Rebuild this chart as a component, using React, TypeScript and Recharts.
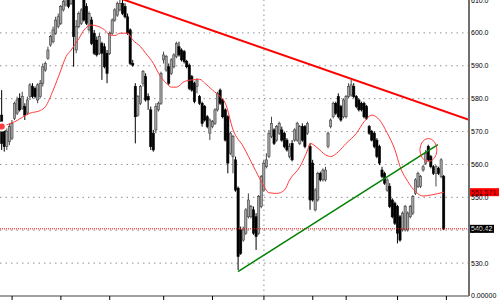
import React from 'react';
import { ComposedChart, Bar, Line, XAxis, YAxis, CartesianGrid, ReferenceLine, ReferenceDot } from 'recharts';

// daily candles (oldest first)
const opens = [
  575.0, 570.5, 565.4, 566.9, 568.0, 574.0, 575.6, 580.1, 577.1, 577.6,
  575.6, 580.6, 583.7, 583.1, 579.6, 580.6, 584.7,
  588.7, 592.3, 596.3, 597.3, 599.9, 601.9, 602.9, 607.0, 608.5, 610.5,
  609.0, 610.5, 594.8, 601.9, 602.9, 610.3, 608.0, 600.9, 603.9, 599.9,
  597.8, 593.8, 596.8, 595.8, 593.8, 593.8, 599.9, 603.9,
  605.4, 607.0, 609.0, 608.0, 604.9, 600.9, 590.7, 583.7, 575.0, 578.6,
  584.7, 586.7, 580.6, 576.6, 569.5, 570.5, 576.6, 578.6, 591.8, 588.7,
  589.7, 587.7, 589.7, 592.8, 595.8, 594.8, 594.3, 591.3, 590.2, 586.7,
  584.7, 583.7, 580.6, 578.6, 577.6, 574.5, 569.5, 571.5, 572.5, 576.6,
  582.6, 579.6, 576.6, 574.5, 563.4, 562.4, 561.4, 552.8, 540.1, 537.0,
  539.1, 544.1, 544.1, 546.2, 544.1, 539.1, 547.2, 552.2, 559.3, 562.4,
  568.5, 570.5, 567.4, 569.5, 570.5, 569.5, 567.4, 562.4, 566.4, 567.4,
  567.4, 566.4, 571.5, 571.5, 569.5, 565.4, 560.4, 546.2, 549.2, 557.3,
  555.3, 555.3, 565.4, 571.5, 574.5, 578.6, 580.6, 577.6, 574.5, 574.5,
  580.6, 581.1, 583.7, 580.6, 579.6, 578.6, 578.6, 577.6, 571.5, 570.0,
  569.5, 567.4, 565.4, 558.3, 557.3, 552.2, 553.3, 549.2, 548.2, 547.2,
  544.1, 540.1, 540.1, 540.1, 544.1, 545.2, 551.2, 553.3, 553.3, 558.3,
  560.4, 565.4, 562.4, 559.3, 557.3, 558.8, 556.3, 556.3,
];
const highs = [
  582.6, 571.5, 571.0, 572.5, 573.5, 579.1, 580.6, 581.6, 582.1, 578.6,
  580.6, 584.7, 584.7, 583.7, 584.7, 585.7, 590.7,
  591.3, 595.8, 599.4, 601.9, 604.9, 605.9, 608.5, 610.0, 611.0, 611.0,
  611.0, 611.0, 603.9, 606.5, 607.5, 610.8, 609.0, 606.5, 604.9, 600.9,
  598.9, 599.9, 597.3, 596.8, 594.8, 600.4, 604.4, 607.5,
  609.5, 610.0, 610.0, 609.0, 605.9, 601.4, 591.8, 584.7, 581.1, 584.2,
  588.7, 587.7, 581.6, 577.6, 570.5, 578.6, 579.1, 588.2, 594.3, 593.3,
  590.7, 592.3, 593.8, 597.3, 597.3, 595.3, 594.8, 591.8, 590.7, 587.2,
  585.2, 586.2, 581.1, 579.1, 578.1, 575.0, 574.0, 573.5, 577.1, 582.1,
  583.1, 580.1, 577.1, 575.0, 570.0, 569.0, 562.4, 553.3, 541.1, 541.1,
  546.7, 551.2, 547.7, 547.2, 545.2, 550.7, 556.8, 561.4, 563.4, 570.5,
  574.5, 571.0, 572.0, 573.0, 571.5, 570.0, 568.0, 566.4, 567.4, 571.0,
  573.0, 572.0, 572.5, 572.0, 573.0, 566.4, 561.4, 552.8, 557.8, 557.8,
  558.8, 559.3, 570.0, 574.0, 579.1, 579.1, 581.6, 578.1, 580.1, 581.1,
  584.7, 585.7, 584.7, 581.1, 580.1, 579.1, 579.1, 578.1, 572.0, 570.5,
  570.0, 568.0, 566.0, 559.3, 557.8, 555.8, 554.3, 549.7, 548.7, 547.7,
  544.6, 545.7, 547.7, 545.7, 547.7, 550.7, 555.8, 557.8, 556.8, 559.8,
  564.4, 566.0, 562.9, 559.8, 559.8, 559.3, 561.9, 556.8,
];
const lows = [
  564.4, 563.9, 564.4, 565.9, 567.4, 573.5, 575.0, 576.1, 576.6, 573.5,
  575.0, 579.6, 580.1, 580.1, 578.6, 580.1, 583.7,
  588.2, 591.8, 595.8, 596.8, 599.4, 601.4, 602.4, 606.5, 608.0, 607.5,
  608.5, 589.7, 593.8, 601.4, 602.4, 603.4, 602.4, 600.4, 596.3, 593.3,
  592.8, 593.3, 585.7, 589.2, 584.7, 593.3, 599.4, 603.4,
  604.9, 606.5, 605.4, 604.4, 599.4, 590.2, 589.7, 566.4, 574.5, 578.1,
  583.7, 579.1, 576.6, 564.4, 563.9, 569.5, 576.1, 578.1, 590.7, 588.2,
  584.2, 587.2, 589.2, 592.3, 592.8, 591.3, 590.7, 589.2, 582.6, 582.1,
  578.6, 581.6, 578.1, 571.5, 573.0, 571.0, 567.4, 571.0, 572.0, 576.1,
  578.1, 574.0, 567.0, 557.3, 562.9, 557.3, 551.7, 527.9, 532.5, 536.5,
  538.6, 543.6, 543.6, 538.6, 534.0, 538.6, 546.7, 551.7, 558.8, 561.9,
  568.0, 565.9, 566.9, 569.0, 566.9, 564.9, 563.9, 561.9, 560.9, 566.9,
  566.9, 565.9, 566.9, 564.9, 569.0, 546.2, 548.7, 545.7, 548.7, 554.8,
  554.8, 554.8, 564.9, 571.0, 574.0, 575.0, 574.0, 573.0, 574.0, 574.0,
  580.1, 580.6, 580.1, 577.1, 576.1, 576.1, 574.0, 573.5, 569.0, 567.0,
  564.9, 561.9, 559.8, 555.8, 553.8, 551.7, 546.7, 543.6, 541.6, 536.0,
  536.5, 539.6, 539.6, 539.6, 543.6, 544.6, 550.7, 552.8, 552.8, 557.8,
  559.8, 560.9, 558.8, 556.8, 553.3, 556.8, 555.8, 540.0,
];
const closes = [
  566.4, 565.4, 570.0, 571.5, 572.5, 578.6, 579.6, 576.6, 580.6, 575.0,
  579.6, 584.2, 580.6, 580.6, 584.2, 584.7, 589.7,
  590.7, 594.8, 598.9, 600.9, 603.9, 604.9, 608.0, 609.5, 610.5, 608.0,
  610.5, 598.9, 601.9, 605.9, 607.0, 603.9, 602.9, 605.9, 596.8, 593.8,
  593.3, 598.9, 593.8, 589.7, 587.7, 599.9, 603.9, 607.0,
  609.0, 609.0, 605.9, 604.9, 599.9, 590.7, 590.2, 574.5, 580.6, 583.7,
  588.2, 579.6, 579.6, 565.4, 564.4, 577.6, 578.6, 587.7, 593.3, 592.8,
  584.7, 591.8, 593.3, 596.8, 593.3, 591.8, 591.3, 589.7, 583.1, 582.6,
  579.1, 585.7, 578.6, 572.5, 573.5, 571.5, 573.5, 573.0, 576.6, 581.6,
  578.6, 574.5, 567.4, 560.4, 569.5, 568.5, 552.2, 532.0, 533.0, 540.1,
  546.2, 549.2, 547.2, 539.1, 538.1, 550.2, 556.3, 560.4, 561.4, 569.5,
  572.5, 566.4, 571.5, 572.5, 567.4, 565.4, 564.4, 565.4, 561.4, 570.5,
  572.5, 571.5, 567.4, 565.4, 572.5, 549.2, 549.2, 552.2, 557.3, 555.3,
  558.3, 558.3, 569.5, 573.5, 578.6, 575.6, 574.5, 573.5, 579.6, 580.6,
  583.7, 584.2, 580.6, 577.6, 576.6, 576.6, 574.5, 574.0, 569.5, 567.4,
  565.4, 562.4, 560.4, 556.3, 554.3, 555.3, 547.2, 544.1, 542.1, 539.1,
  537.0, 545.2, 547.2, 545.2, 547.2, 550.2, 555.3, 557.3, 556.3, 559.3,
  563.4, 561.4, 559.3, 557.3, 559.3, 557.3, 561.4, 540.42,
];

// moving average (red), sampled at these candle indexes
const maDays = [
  0, 5, 11, 15, 17, 20, 23, 25, 27, 30, 32, 35, 37, 40, 42, 44, 46, 49, 51, 54, 56, 59, 61, 64, 66, 68, 71, 74, 77, 79, 82, 85,
  87, 90, 94, 98, 101, 104, 107, 110, 112, 116, 119, 120, 123, 126, 128, 131, 134, 138, 141, 144, 147, 150, 153, 155, 158, 161, 164, 167, 172,
];
const maValues = [
  571.5, 573.0, 575.6, 576.4, 577.6, 582.6, 588.7, 592.8, 594.8, 598.3, 600.9, 602.4, 602.1, 600.9, 599.4, 599.2,
  599.9, 599.9, 597.8, 595.8, 593.8, 590.7, 587.7, 584.7, 583.5, 583.5, 585.2, 585.7, 585.9, 584.7, 582.6, 580.6,
  578.6, 570.5, 565.4, 559.3, 554.8, 551.4, 551.2, 552.2, 555.3, 559.3, 564.4, 566.4, 564.9, 562.9, 562.4, 563.9,
  566.4, 569.5, 573.0, 575.0, 573.5, 569.5, 564.4, 559.3, 554.8, 551.7, 550.4, 550.7, 551.571,
];

const xTicks = [4, 23, 42, 63, 82, 102, 121, 134, 154, 173];
const xLabels = ['Aug', 'Sep', 'Oct', 'Nov', 'Dec', '2011', 'Feb', 'Mar', 'Apr', 'May'];
const yTicks = [520, 530, 540, 550, 560, 570, 580, 590, 600, 610];
const gridValues = [530, 540, 550, 560, 570, 580, 590, 600];

const lastClose = 540.42;
const lastMa = 551.571;

// trend lines and marked point
const resistance = [{ x: 46, y: 610.5 }, { x: 181.8, y: 573.6 }];
const support = [{ x: 91.9, y: 527.4 }, { x: 169.7, y: 566.0 }];
const mark = { x: 166.0, y: 564.4 };

const data = opens.map((o, i) => {
  const k = maDays.indexOf(i);
  return {
    i,
    open: o,
    high: highs[i],
    low: lows[i],
    close: closes[i],
    range: [lows[i], highs[i]],
    ma: k >= 0 ? maValues[k] : null,
  };
});

const FONT = '"Liberation Sans", Arial, sans-serif';

const Candle = (props: any) => {
  const { x, y, width, height, payload } = props;
  if (x == null || y == null) return null;
  const top0 = Math.min(y, y + height);
  const h = Math.abs(height);
  const span = payload.high - payload.low || 1;
  const py = (v: number) => top0 + ((payload.high - v) / span) * h;
  const cx = x + width / 2;
  const up = payload.close >= payload.open;
  const bt = py(Math.max(payload.open, payload.close));
  const bb = py(Math.min(payload.open, payload.close));
  const bw = 2.2;
  return (
    <g>
      <line x1={cx} x2={cx} y1={top0} y2={top0 + h} stroke={up ? '#454545' : '#000'} strokeWidth={1} />
      <rect
        x={cx - bw / 2}
        y={bt}
        width={bw}
        height={Math.max(bb - bt, 0.8)}
        fill={up ? '#a4a4a4' : '#000'}
        stroke={up ? '#404040' : '#000'}
        strokeWidth={0.6}
      />
    </g>
  );
};

const XTick = (props: any) => {
  const { x, y, payload } = props;
  const label = xLabels[xTicks.indexOf(payload.value)] ?? '';
  return (
    <g>
      <line x1={x} x2={x} y1={y} y2={y + 4} stroke="#000" />
      <text x={x + 2} y={y + 9} fontSize={8} fontFamily={FONT} fill="#000">{label}</text>
    </g>
  );
};

const PriceTag = ({ viewBox, value, bg, color, w }: any) => {
  if (!viewBox) return null;
  const left = viewBox.x + viewBox.width + 1;
  return (
    <g>
      <rect x={left} y={viewBox.y - 4} width={w} height={8} fill={bg} />
      <text x={left + 1} y={viewBox.y + 2.6} fontSize={7} fontFamily={FONT} fill={color}>{value}</text>
    </g>
  );
};

export default function App() {
  return (
    <div style={{ position: 'absolute', left: 0, top: 0, width: 500, height: 300, overflow: 'hidden', background: '#fff' }}>
      <ComposedChart width={500} height={310} data={data} margin={{ top: 0, right: 0, bottom: 0, left: 0 }}>
        <CartesianGrid horizontal vertical={false} horizontalValues={gridValues} stroke="#909090" strokeDasharray="1.5 4" />
        <XAxis
          dataKey="i"
          type="number"
          domain={[-0.7, 181.8]}
          allowDataOverflow
          ticks={xTicks}
          interval={0}
          height={14}
          tickSize={0}
          tickMargin={0}
          tickLine={false}
          axisLine={{ stroke: '#808080', strokeWidth: 1.5 }}
          tick={<XTick />}
        />
        <YAxis
          orientation="right"
          width={31}
          domain={[520, 610]}
          allowDataOverflow
          ticks={yTicks}
          interval={0}
          tickSize={0}
          tickMargin={2}
          tickLine={false}
          axisLine={{ stroke: '#707070', strokeWidth: 2 }}
          tick={{ fontSize: 7, fill: '#000', fontFamily: FONT }}
          tickFormatter={(v: number) => (v === 520 ? '0.00000' : v.toFixed(1))}
        />
        <ReferenceLine x={xTicks[5]} stroke="#909090" strokeDasharray="1.5 3.5" />
        <ReferenceLine
          y={lastClose}
          stroke="#ff0000"
          strokeDasharray="1 1"
          label={(p: any) => <PriceTag viewBox={p.viewBox} value={lastClose.toFixed(2)} bg="#000" color="#fff" w={24} />}
        />
        <ReferenceLine
          y={lastMa}
          strokeOpacity={0}
          label={(p: any) => <PriceTag viewBox={p.viewBox} value={lastMa.toFixed(3)} bg="#ff0000" color="#4a0000" w={29} />}
        />
        <Bar dataKey="range" barSize={3} shape={<Candle />} isAnimationActive={false} />
        <Line
          dataKey="ma"
          type="monotone"
          stroke="#ff3b3b"
          strokeWidth={1}
          dot={false}
          connectNulls
          isAnimationActive={false}
        />
        <ReferenceLine segment={resistance} stroke="#ff0000" strokeWidth={2} ifOverflow="hidden" />
        <ReferenceLine segment={support} stroke="#008000" strokeWidth={1.5} ifOverflow="hidden" />
        <ReferenceDot
          x={mark.x}
          y={mark.y}
          r={10}
          ifOverflow="visible"
          shape={(p: any) => <ellipse cx={p.cx} cy={p.cy} rx={8.5} ry={11.5} fill="none" stroke="#ff4040" strokeWidth={1} />}
        />
      </ComposedChart>
    </div>
  );
}
